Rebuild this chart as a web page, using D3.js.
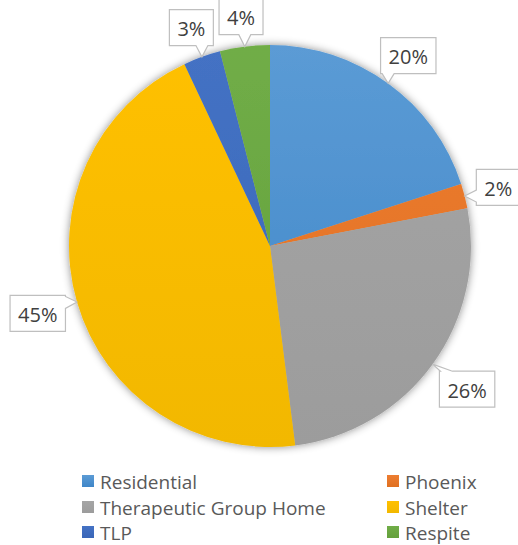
<!DOCTYPE html>
<html><head><meta charset="utf-8">
<script src="https://cdn.jsdelivr.net/npm/d3@7/dist/d3.min.js"></script>
<style>body{margin:0;background:#fff;} svg{display:block;font-family:"Open Sans",sans-serif;}</style>
</head><body>
<svg id="c" width="518" height="545"></svg>
<script>
const categories = ["Residential","Phoenix","Therapeutic Group Home","Shelter","TLP","Respite"];
const values = [20, 2, 26, 45, 3, 4];
const colors = ["#5B9BD5","#ED7D31","#A5A5A5","#FFC000","#4472C4","#70AD47"];
const darker = ["#3F86C8","#E07020","#9C9C9C","#F2B800","#3A66B8","#64A03C"];

const svg = d3.select("#c");
const cx = 270, cy = 246, R = 201;
const defs = svg.append("defs");
const f = defs.append("filter").attr("id","sh").attr("x","-20%").attr("y","-20%").attr("width","140%").attr("height","140%");
f.append("feDropShadow").attr("dx",0).attr("dy",0).attr("stdDeviation",4).attr("flood-color","#000").attr("flood-opacity",0.45);
colors.forEach((c,i)=>{
  const g = defs.append("linearGradient").attr("id","g"+i).attr("gradientUnits","userSpaceOnUse")
    .attr("x1",0).attr("y1",-R).attr("x2",0).attr("y2",R);
  g.append("stop").attr("offset","0%").attr("stop-color",c);
  g.append("stop").attr("offset","100%").attr("stop-color",darker[i]);
});

const pie = d3.pie().sort(null).value(d=>d)(values);
const arc = d3.arc().innerRadius(0).outerRadius(R);
const gp = svg.append("g").attr("transform",`translate(${cx},${cy})`);
gp.append("g").attr("filter","url(#sh)").selectAll("path").data(pie).join("path")
  .attr("d",arc).attr("fill",(d,i)=>`url(#g${i})`);

// labels
const gap = 12;
const lblG = svg.append("g");
pie.forEach((d,i)=>{
  const a = (d.startAngle+d.endAngle)/2;
  const s = Math.sin(a), co = Math.cos(a);
  const tx = cx + R*s, ty = cy - R*co;
  const txt = values[i]+"%";
  const t = lblG.append("text").attr("text-anchor","middle")
    .attr("dominant-baseline","central").attr("font-size",20).attr("fill","#404040").text(txt);
  const w = t.node().getComputedTextLength() + 16, h = 36;
  const tt = Math.min((w/2)/Math.max(Math.abs(s),1e-6), (h/2)/Math.max(Math.abs(co),1e-6));
  const dd = R + gap + tt;
  const bx = cx + dd*s, by = cy - dd*co;
  t.attr("x",bx).attr("y",by+1);
  const x0 = bx - w/2, y0 = by - h/2, x1 = x0 + w, y1 = y0 + h;
  const ndx = (tx-bx)/(w/2), ndy = (ty-by)/(h/2);
  const bw = 12;
  let p;
  if (Math.abs(ndx) > Math.abs(ndy)) {
    const c = Math.max(y0+bw/2+1, Math.min(y1-bw/2-1, ty));
    if (ndx < 0) p = [[x0,y0],[x1,y0],[x1,y1],[x0,y1],[x0,c+bw/2],[tx,ty],[x0,c-bw/2]];
    else p = [[x0,y0],[x1,y0],[x1,c-bw/2],[tx,ty],[x1,c+bw/2],[x1,y1],[x0,y1]];
  } else {
    const c = Math.max(x0+bw/2+1, Math.min(x1-bw/2-1, tx));
    if (ndy > 0) p = [[x0,y0],[x1,y0],[x1,y1],[c+bw/2,y1],[tx,ty],[c-bw/2,y1],[x0,y1]];
    else p = [[x0,y0],[c-bw/2,y0],[tx,ty],[c+bw/2,y0],[x1,y0],[x1,y1],[x0,y1]];
  }
  lblG.insert("path","text").attr("d","M"+p.map(q=>q.join(",")).join("L")+"Z")
    .attr("fill","#fff").attr("stroke","#BFBFBF").attr("stroke-width",1.2);
});

// legend
const colX = [82, 387], rowY = [481, 507, 532];
const leg = svg.append("g");
categories.forEach((c,i)=>{
  const x = colX[i%2], y = rowY[Math.floor(i/2)];
  const g = defs.append("linearGradient").attr("id","lg"+i).attr("x1",0).attr("y1",0).attr("x2",0).attr("y2",1);
  g.append("stop").attr("offset","0%").attr("stop-color",colors[i]);
  g.append("stop").attr("offset","100%").attr("stop-color",darker[i]);
  leg.append("rect").attr("x",x).attr("y",y-6).attr("width",12).attr("height",12).attr("fill",`url(#lg${i})`);
  leg.append("text").attr("x",x+18).attr("y",y+1).attr("dominant-baseline","central")
    .attr("font-size",19).attr("fill","#595959").text(c);
});
</script>
</body></html>
